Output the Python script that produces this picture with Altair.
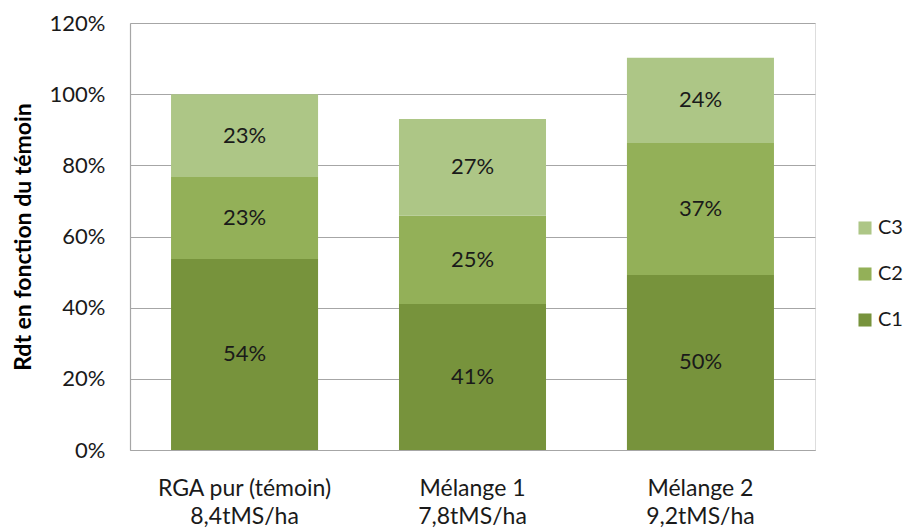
import altair as alt
import pandas as pd

categories = ["RGA pur (témoin)|8,4tMS/ha", "Mélange 1|7,8tMS/ha", "Mélange 2|9,2tMS/ha"]
series = ["C1", "C2", "C3"]
c1 = [0.537, 0.410, 0.492]
c2 = [0.230, 0.248, 0.371]
c3 = [0.233, 0.272, 0.239]
labels_c1 = ["54%", "41%", "50%"]
labels_c2 = ["23%", "25%", "37%"]
labels_c3 = ["23%", "27%", "24%"]
colors = ["#77933C", "#93B058", "#ADC686"]

rows = []
for i, cat in enumerate(categories):
    for s, vals, labs in zip(series, [c1, c2, c3], [labels_c1, labels_c2, labels_c3]):
        rows.append({"cat": cat, "serie": s, "val": vals[i], "lab": labs[i],
                     "ord": series.index(s)})
df = pd.DataFrame(rows)

FONT = "Lato"

base = alt.Chart(df).transform_stack(
    stack="val", groupby=["cat"], as_=["y0", "y1"], sort=[alt.SortField("ord", order="ascending")]
).transform_calculate(mid="(datum.y0 + datum.y1) / 2")

xenc = alt.X("cat:N", sort=categories, title=None,
             scale=alt.Scale(paddingInner=0.355, paddingOuter=0.18),
             axis=alt.Axis(labelExpr="split(datum.label, '|')", labelAngle=0,
                           labelFontSize=23, labelFont=FONT, labelColor="#1a1a1a",
                           labelLineHeight=28, labelPadding=27, ticks=False,
                           domainColor="#a6a6a6", domainWidth=1.2, grid=False))

bars = base.mark_bar().encode(
    x=xenc,
    y=alt.Y("y0:Q", scale=alt.Scale(domain=[0, 1.2]), title="Rdt en fonction du témoin",
            axis=alt.Axis(format=".0%", values=[0, 0.2, 0.4, 0.6, 0.8, 1.0, 1.2],
                          labelFontSize=22, labelFont=FONT, labelColor="#1a1a1a",
                          labelPadding=25, ticks=False, domainColor="#a6a6a6",
                          domainWidth=1.2, gridColor="#a6a6a6", gridWidth=1.2,
                          titleFont=FONT, titleFontSize=23, titleFontWeight="bold",
                          titleColor="#000000", titlePadding=14)),
    y2="y1:Q",
    color=alt.Color("serie:N", scale=alt.Scale(domain=series, range=colors),
                    sort=["C3", "C2", "C1"],
                    legend=alt.Legend(title=None, orient="none", legendX=725, legendY=195,
                                      symbolType="square", symbolSize=170, symbolStrokeWidth=0,
                                      labelFontSize=20, labelFont=FONT, labelColor="#1a1a1a",
                                      rowPadding=26, labelOffset=3, padding=0,
                                      values=["C3", "C2", "C1"])),
)

texts = base.mark_text(fontSize=22, font=FONT, color="#1a1a1a").encode(
    x=alt.X("cat:N", sort=categories),
    y="mid:Q",
    text="lab:N",
)

chart = (bars + texts).properties(
    width=685, height=427,
    padding={"left": 130, "top": 23, "right": 89, "bottom": 79},
    autosize=alt.AutoSizeParams(type="none"),
).configure_view(stroke=None).configure(background="white")

chart.save("out.html", embed_options={"renderer": "svg", "actions": False})
